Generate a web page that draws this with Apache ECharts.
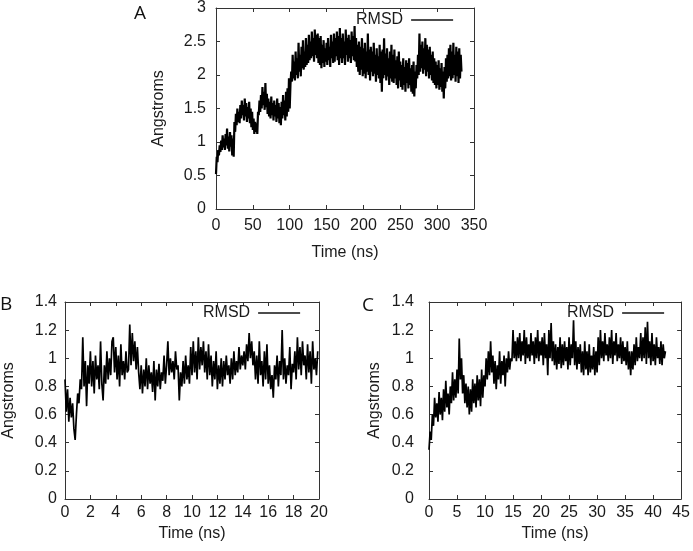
<!DOCTYPE html>
<html>
<head>
<meta charset="utf-8">
<script src="https://cdn.jsdelivr.net/npm/echarts@6/dist/echarts.min.js"></script>
<style>
html,body{margin:0;padding:0;background:#fff;}
#chart{width:693px;height:551px;}
</style>
</head>
<body>
<div id="chart"></div>
<script>
// Panel A: RMSD (Å) sampled every 1 ns, 0..333 ns
const stepA = 1;
const rmsdA = [
0.52,0.78,0.70,0.88,0.80,0.95,0.85,1.02,0.88,1.10,
0.92,1.05,0.88,1.12,0.95,1.20,0.90,1.08,0.86,1.15,
0.93,1.10,0.80,1.05,0.78,1.30,1.15,1.42,1.25,1.50,
1.30,1.45,1.28,1.55,1.35,1.62,1.40,1.55,1.32,1.65,
1.38,1.58,1.30,1.52,1.35,1.60,1.28,1.50,1.22,1.45,
1.18,1.35,1.12,1.30,1.15,1.28,1.12,1.45,1.40,1.62,
1.45,1.70,1.50,1.82,1.55,1.75,1.48,1.88,1.52,1.72,
1.42,1.65,1.38,1.60,1.35,1.68,1.40,1.58,1.32,1.62,
1.38,1.55,1.30,1.65,1.35,1.58,1.28,1.52,1.25,1.60,
1.35,1.70,1.40,1.62,1.32,1.75,1.38,1.80,1.45,1.95,
1.50,1.85,2.05,1.90,2.30,1.95,2.20,1.92,2.35,2.00,
2.25,1.95,2.48,2.05,2.30,1.98,2.42,2.10,2.52,2.08,
2.35,2.12,2.55,2.15,2.45,2.18,2.60,2.22,2.50,2.25,
2.65,2.28,2.55,2.20,2.68,2.30,2.60,2.25,2.62,2.18,
2.55,2.15,2.58,2.10,2.45,2.18,2.52,2.12,2.40,2.20,
2.48,2.15,2.55,2.22,2.42,2.12,2.60,2.25,2.50,2.18,
2.62,2.20,2.55,2.28,2.65,2.22,2.58,2.15,2.70,2.25,
2.55,2.18,2.62,2.25,2.50,2.15,2.68,2.30,2.55,2.20,
2.60,2.25,2.52,2.18,2.65,2.28,2.58,2.22,2.73,2.20,
2.55,2.12,2.45,2.05,2.50,2.00,2.42,2.08,2.55,1.98,
2.40,2.02,2.48,1.95,2.35,2.05,2.62,2.00,2.38,1.92,
2.42,2.05,2.35,1.98,2.48,2.02,2.30,1.90,2.40,2.00,
2.28,1.95,2.45,1.88,2.35,1.75,2.38,1.95,2.55,2.00,
2.32,1.92,2.40,1.98,2.25,1.85,2.35,1.95,2.45,1.90,
2.30,1.88,2.38,1.95,2.22,1.85,2.28,1.80,2.35,1.92,
2.20,1.82,2.15,1.78,2.25,1.85,2.12,1.75,2.22,1.88,
2.18,1.80,2.25,1.85,2.10,1.75,2.15,1.72,2.20,1.68,
2.05,1.80,2.15,1.95,2.30,2.00,2.62,2.05,2.45,2.10,
2.50,2.02,2.40,2.08,2.55,1.98,2.45,2.05,2.38,1.95,
2.42,2.00,2.30,1.92,2.35,1.88,2.25,1.85,2.20,1.80,
2.15,1.85,2.22,1.78,2.10,1.82,2.18,1.75,2.05,1.65,
2.12,1.80,2.25,1.90,2.30,1.95,2.40,1.98,2.45,1.92,
2.35,1.95,2.48,2.00,2.30,1.90,2.42,1.98,2.35,1.88,
2.40,1.95,2.30,2.05
];
// Panel B: RMSD (Å) sampled every 0.1 ns, 0..19.9 ns
const stepB = 0.1;
const rmsdB = [
0.85,0.62,0.78,0.55,0.72,0.58,0.68,0.50,0.42,0.60,
0.75,0.68,0.85,0.78,1.15,0.80,0.98,0.66,0.95,0.82,
1.05,0.80,0.98,0.75,1.02,0.85,0.95,0.78,1.12,0.82,
0.70,0.95,0.82,1.05,0.85,1.00,0.88,1.12,1.15,0.90,
1.08,0.85,1.02,0.80,1.10,0.88,0.98,0.85,1.05,0.90,
0.92,1.24,0.95,1.18,0.98,1.12,0.92,1.08,0.90,0.78,
0.95,0.75,0.92,0.80,1.00,0.78,0.95,0.82,0.90,0.76,
0.98,0.70,0.92,0.80,0.96,0.78,0.90,0.84,1.02,0.82,
0.95,1.12,0.88,1.00,0.90,0.98,0.85,1.05,0.92,0.95,
0.70,0.90,0.80,0.98,0.82,1.02,0.85,0.95,0.82,1.08,
0.88,1.12,0.90,1.05,0.85,1.15,0.92,1.08,0.95,1.12,
0.90,1.05,0.85,1.10,0.88,1.02,0.80,0.98,0.85,1.05,
0.78,0.95,0.82,1.00,0.80,0.98,0.85,1.02,0.88,0.95,
0.82,1.00,0.85,1.05,0.88,0.98,0.90,1.08,0.92,1.02,
0.95,1.05,0.92,1.10,0.98,1.18,1.00,1.12,0.95,1.05,
0.85,1.02,0.82,1.12,0.88,0.98,0.80,1.05,0.85,1.10,
0.82,0.95,0.78,0.88,0.72,0.95,0.85,1.02,0.80,0.98,
0.88,1.20,0.85,1.00,0.82,0.95,0.88,1.08,0.78,0.96,
0.90,1.05,0.85,1.15,0.92,1.08,0.88,1.12,0.95,1.02,
0.85,1.10,0.90,1.05,0.82,1.12,0.92,1.00,0.88,1.05
];
// Panel C: RMSD (Å) sampled every 0.2 ns, 0..42.2 ns
const stepC = 0.2;
const rmsdC = [
0.35,0.48,0.42,0.60,0.52,0.72,0.58,0.68,0.55,0.76,
0.60,0.72,0.56,0.78,0.62,0.84,0.65,0.75,0.60,0.80,
0.68,0.90,0.70,0.85,0.72,0.92,0.75,1.14,0.85,1.00,
0.75,0.88,0.68,0.82,0.65,0.80,0.60,0.78,0.62,0.85,
0.68,0.82,0.65,0.88,0.70,0.85,0.66,0.92,0.72,0.88,
0.80,1.00,0.85,1.05,0.88,1.12,0.90,1.02,0.82,0.98,
0.78,0.95,0.85,1.05,0.82,0.98,0.88,1.02,0.80,1.00,
0.90,1.05,0.92,1.00,0.98,1.20,1.00,1.12,0.98,1.15,
1.00,1.18,0.98,1.12,1.02,1.20,0.96,1.15,1.00,1.10,
0.98,1.18,1.02,1.12,0.96,1.15,1.00,1.20,0.98,1.12,
1.02,1.15,0.95,1.18,1.00,1.10,0.88,1.20,1.00,1.25,
0.98,1.12,0.95,1.10,0.92,1.08,0.96,1.15,0.93,1.10,
0.95,1.12,0.98,1.08,0.92,1.15,0.95,1.10,1.00,1.27,
0.95,1.12,0.92,1.08,0.96,1.10,0.90,1.05,0.88,1.12,
0.92,1.05,0.88,1.10,0.90,1.02,0.92,1.08,0.88,1.05,
0.90,1.15,0.95,1.20,1.00,1.12,0.98,1.18,1.02,1.10,
0.98,1.15,1.00,1.20,0.96,1.12,1.02,1.18,0.98,1.10,
1.00,1.15,0.96,1.12,0.98,1.08,0.95,1.12,0.92,1.05,
0.88,1.05,0.92,1.10,0.95,1.15,0.98,1.08,1.00,1.18,
0.98,1.15,1.00,1.22,0.96,1.26,1.00,1.12,0.95,1.18,
0.98,1.10,0.95,1.15,1.00,1.08,0.96,1.12,0.95,1.10,
1.00,1.05
];
const panelLabels = ['A','B','C'];
const seriesName = 'RMSD';
const xName = 'Time (ns)';
const yName = 'Angstroms';

function pairs(vals, step){ return vals.map((v,i)=>[+(i*step).toFixed(2), v]); }

const FONT = 'Liberation Sans, Arial, sans-serif';
const FS = 16;
const AX = '#333';
const TXT = '#1a1a1a';

const grids = [
  {left:216, top:7, width:258, height:202},
  {left:65, top:302, width:254, height:197},
  {left:429, top:302, width:254, height:197}
];
const xs = [
  {min:0,max:350,interval:50, gap:36, lm:9},
  {min:0,max:20,interval:2, gap:27, lm:6},
  {min:0,max:45,interval:5, gap:27, lm:6}
];
const ys = [
  {min:0,max:3,interval:0.5, gap:49, lm:10},
  {min:0,max:1.4,interval:0.2, gap:48, lm:8},
  {min:0,max:1.4,interval:0.2, gap:46, lm:15}
];
const widths = [2.2, 1.7, 1.7];

const xAxis=[], yAxis=[], series=[], legend=[];
grids.forEach((g,i)=>{
  const base = {
    type:'value', gridIndex:i, min:xs[i].min, max:xs[i].max, interval:xs[i].interval,
    splitLine:{show:false},
    axisLine:{show:true, onZero:false, lineStyle:{color:AX, width:1}},
    axisTick:{show:true, inside:true, length:4, lineStyle:{color:AX}}
  };
  xAxis.push(Object.assign({}, base, {position:'bottom', name:xName, nameLocation:'middle', nameGap:xs[i].gap,
    nameTextStyle:{fontFamily:FONT, fontSize:FS, color:TXT},
    axisLabel:{fontFamily:FONT, fontSize:FS, color:TXT, margin:xs[i].lm}}));
  xAxis.push(Object.assign({}, base, {position:'top', axisLabel:{show:false}}));
  const ybase = {
    type:'value', gridIndex:i, min:ys[i].min, max:ys[i].max, interval:ys[i].interval,
    splitLine:{show:false},
    axisLine:{show:true, onZero:false, lineStyle:{color:AX, width:1}},
    axisTick:{show:true, inside:true, length:4, lineStyle:{color:AX}}
  };
  yAxis.push(Object.assign({}, ybase, {position:'left', name:yName, nameLocation:'middle', nameGap:ys[i].gap, nameRotate:90,
    nameTextStyle:{fontFamily:FONT, fontSize:FS, color:TXT},
    axisLabel:{fontFamily:FONT, fontSize:FS, color:TXT, margin:ys[i].lm}}));
  yAxis.push(Object.assign({}, ybase, {position:'right', axisLabel:{show:false}}));
});

const dataSets = [pairs(rmsdA, stepA), pairs(rmsdB, stepB), pairs(rmsdC, stepC)];
dataSets.forEach((d,i)=>{
  series.push({
    name: seriesName, type:'line', xAxisIndex:i*2, yAxisIndex:i*2, data:d,
    showSymbol:false, symbol:'none', smooth:false,
    lineStyle:{color:'#000', width:widths[i], join:'bevel'}, itemStyle:{color:'#000'},
    emphasis:{disabled:true}
  });
});

const legendPos = [{left:356, top:12},{left:203, top:305},{left:567, top:305}];
legendPos.forEach(p=>{
  legend.push({
    data:[seriesName], left:p.left, top:p.top, align:'right', padding:0,
    icon:'rect', itemWidth:42, itemHeight:1.4,
    itemGap:0, selectedMode:false,
    textStyle:{fontFamily:FONT, fontSize:FS, color:TXT, padding:[0,3,0,0]},
    itemStyle:{color:'#111'}
  });
});

const labelPos = [{x:134, y:4},{x:0, y:295},{x:362, y:296}];
const graphic = panelLabels.map((t,i)=>({
  type:'text', left:labelPos[i].x, top:labelPos[i].y,
  style:{text:t, fontFamily:'Open Sans, Lato, sans-serif', fontSize:19, fill:'#111'}
}));

const chart = echarts.init(document.getElementById('chart'), null, {renderer:'canvas'});
chart.setOption({
  animation:false,
  backgroundColor:'#fff',
  grid:grids, xAxis, yAxis, series, legend, graphic
});
</script>
</body>
</html>
